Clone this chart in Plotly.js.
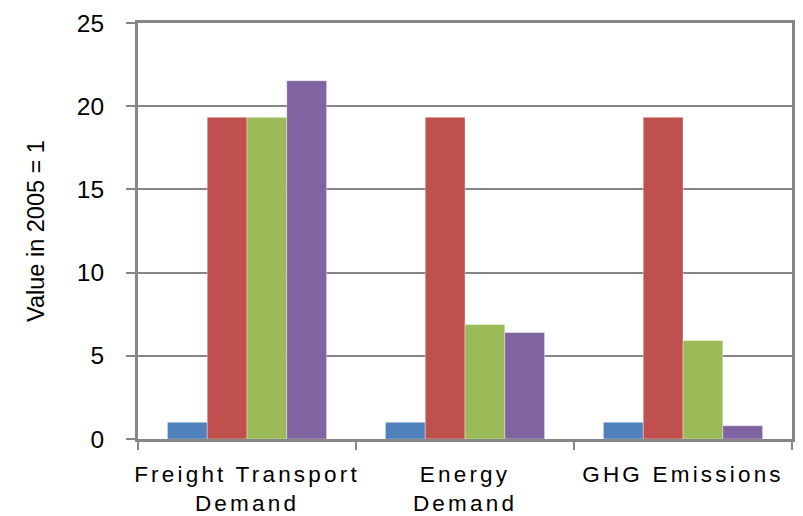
<!DOCTYPE html>
<html>
<head>
<meta charset="utf-8">
<script src="https://cdn.plot.ly/plotly-3.0.1.min.js"></script>
<style>
  html, body { margin: 0; padding: 0; background: #fff; }
  #chart { width: 803px; height: 516px; }
  .xtick text { letter-spacing: 3.2px; }
</style>
</head>
<body>
<div id="chart"></div>
<script>
// Categories (x-axis tick labels)
const categories = ["Freight Transport<br>Demand", "Energy<br>Demand", "GHG Emissions"];

// Series values (index, value in 2005 = 1)
const seriesNames = ["2005", "Scenario 1", "Scenario 2", "Scenario 3"];
const blueValues   = [1.0, 1.0, 1.0];
const redValues    = [19.33, 19.33, 19.33];
const greenValues  = [19.33, 6.88, 5.92];
const purpleValues = [21.53, 6.40, 0.8];

// Y-axis ticks
const yTicks = [0, 5, 10, 15, 20, 25];

const seriesValues = [blueValues, redValues, greenValues, purpleValues];
const colors = ["#4F81BD", "#C0504D", "#9BBB59", "#8064A2"];

const font = "'Liberation Sans', Arial, sans-serif";

const traces = seriesValues.map((vals, i) => ({
  type: "bar",
  name: seriesNames[i],
  x: categories,
  y: vals,
  marker: { color: colors[i], line: { color: "rgba(255,255,255,0.6)", width: 0.6 } },
  hoverinfo: "x+y+name"
}));

const layout = {
  width: 803,
  height: 516,
  margin: { l: 138, r: 11, t: 23, b: 77, pad: 0 },
  paper_bgcolor: "#ffffff",
  plot_bgcolor: "#ffffff",
  barmode: "group",
  bargap: 0.27,
  bargroupgap: 0,
  showlegend: false,
  font: { family: font, color: "#000000" },
  xaxis: {
    type: "category",
    showgrid: false,
    showline: true,
    linecolor: "#868686",
    linewidth: 3,
    mirror: true,
    ticks: "outside",
    tickson: "boundaries",
    ticklen: 8,
    tickwidth: 2,
    tickcolor: "#868686",
    ticklabelstandoff: 13,
    tickfont: { family: font, size: 22.5, color: "#000000" },
    automargin: false
  },
  yaxis: {
    range: [0, 25],
    tickvals: yTicks,
    ticktext: yTicks.map(String),
    showgrid: true,
    gridcolor: "#868686",
    gridwidth: 2,
    zeroline: false,
    showline: true,
    linecolor: "#868686",
    linewidth: 3,
    mirror: true,
    ticks: "outside",
    ticklen: 9,
    tickwidth: 2,
    tickcolor: "#868686",
    ticklabelstandoff: 17,
    tickfont: { family: font, size: 24.5, color: "#000000" },
    title: { text: "Value in 2005 = 1", font: { family: font, size: 23.5, color: "#000000" }, standoff: 26 },
    automargin: false
  }
};

Plotly.newPlot("chart", traces, layout, { displayModeBar: false, staticPlot: false });
</script>
</body>
</html>
